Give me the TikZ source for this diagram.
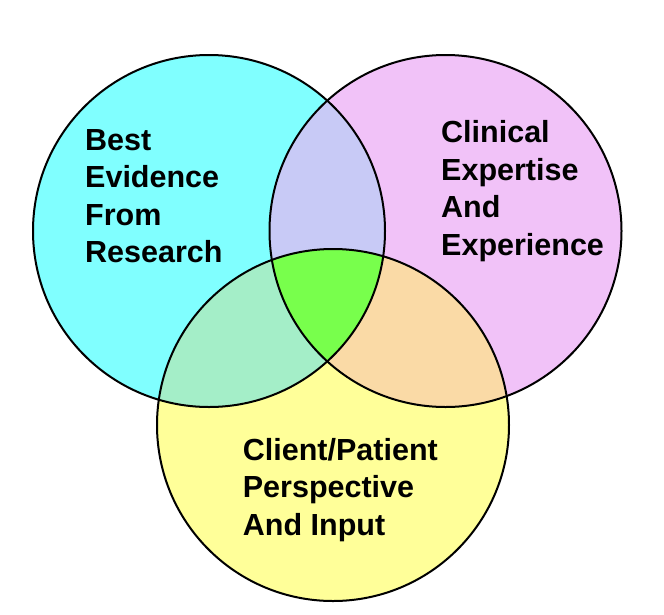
\documentclass[tikz,border=0pt]{standalone}
\usepackage{fontspec}
\setmainfont{Liberation Sans}
\usetikzlibrary{positioning}
\definecolor{evcyan}{RGB}{128,255,255}
\definecolor{expink}{RGB}{241,194,248}
\definecolor{ptyellow}{RGB}{255,255,153}
\definecolor{abmix}{RGB}{200,202,246}
\definecolor{acmix}{RGB}{164,238,200}
\definecolor{bcmix}{RGB}{250,218,166}
\definecolor{allgreen}{RGB}{120,255,76}

\tikzset{
  ring/.style={draw=black, line width=2pt},
  lbl/.style={font=\fontsize{30.5}{37.4}\selectfont\bfseries, align=left, inner sep=0pt, anchor=base west}
}

\begin{document}
\begin{tikzpicture}[x=1pt, y=-1pt]

\useasboundingbox (0,0) rectangle (664,614);
\fill[white] (0,0) rectangle (664,614);

% Circle centres
\coordinate (research) at (209,231);
\coordinate (clinical) at (445.5,231);
\coordinate (patient) at (333,425);
\def\rad{176}

% Base fills
\fill[evcyan] (research) circle (\rad);
\fill[expink] (clinical) circle (\rad);
\fill[ptyellow] (patient) circle (\rad);

% Pairwise overlaps
\begin{scope}
  \clip (research) circle (\rad);
  \fill[abmix] (clinical) circle (\rad);
  \fill[acmix] (patient) circle (\rad);
\end{scope}
\begin{scope}
  \clip (clinical) circle (\rad);
  \fill[bcmix] (patient) circle (\rad);
\end{scope}

% Centre of all three
\begin{scope}
  \clip (research) circle (\rad);
  \clip (clinical) circle (\rad);
  \fill[allgreen] (patient) circle (\rad);
\end{scope}

% Outlines
\draw[ring] (research) circle (\rad);
\draw[ring] (clinical) circle (\rad);
\draw[ring] (patient) circle (\rad);

% Labels (base = last line)
\node[lbl] (evidence) at (85,262.7) {Best\\Evidence\\From\\Research};
\node[lbl] (expertise) at (441,255) {Clinical\\Expertise\\And\\Experience};
\node[lbl] (input) at (242.7,535) {Client/Patient\\Perspective\\And Input};

\end{tikzpicture}
\end{document}
